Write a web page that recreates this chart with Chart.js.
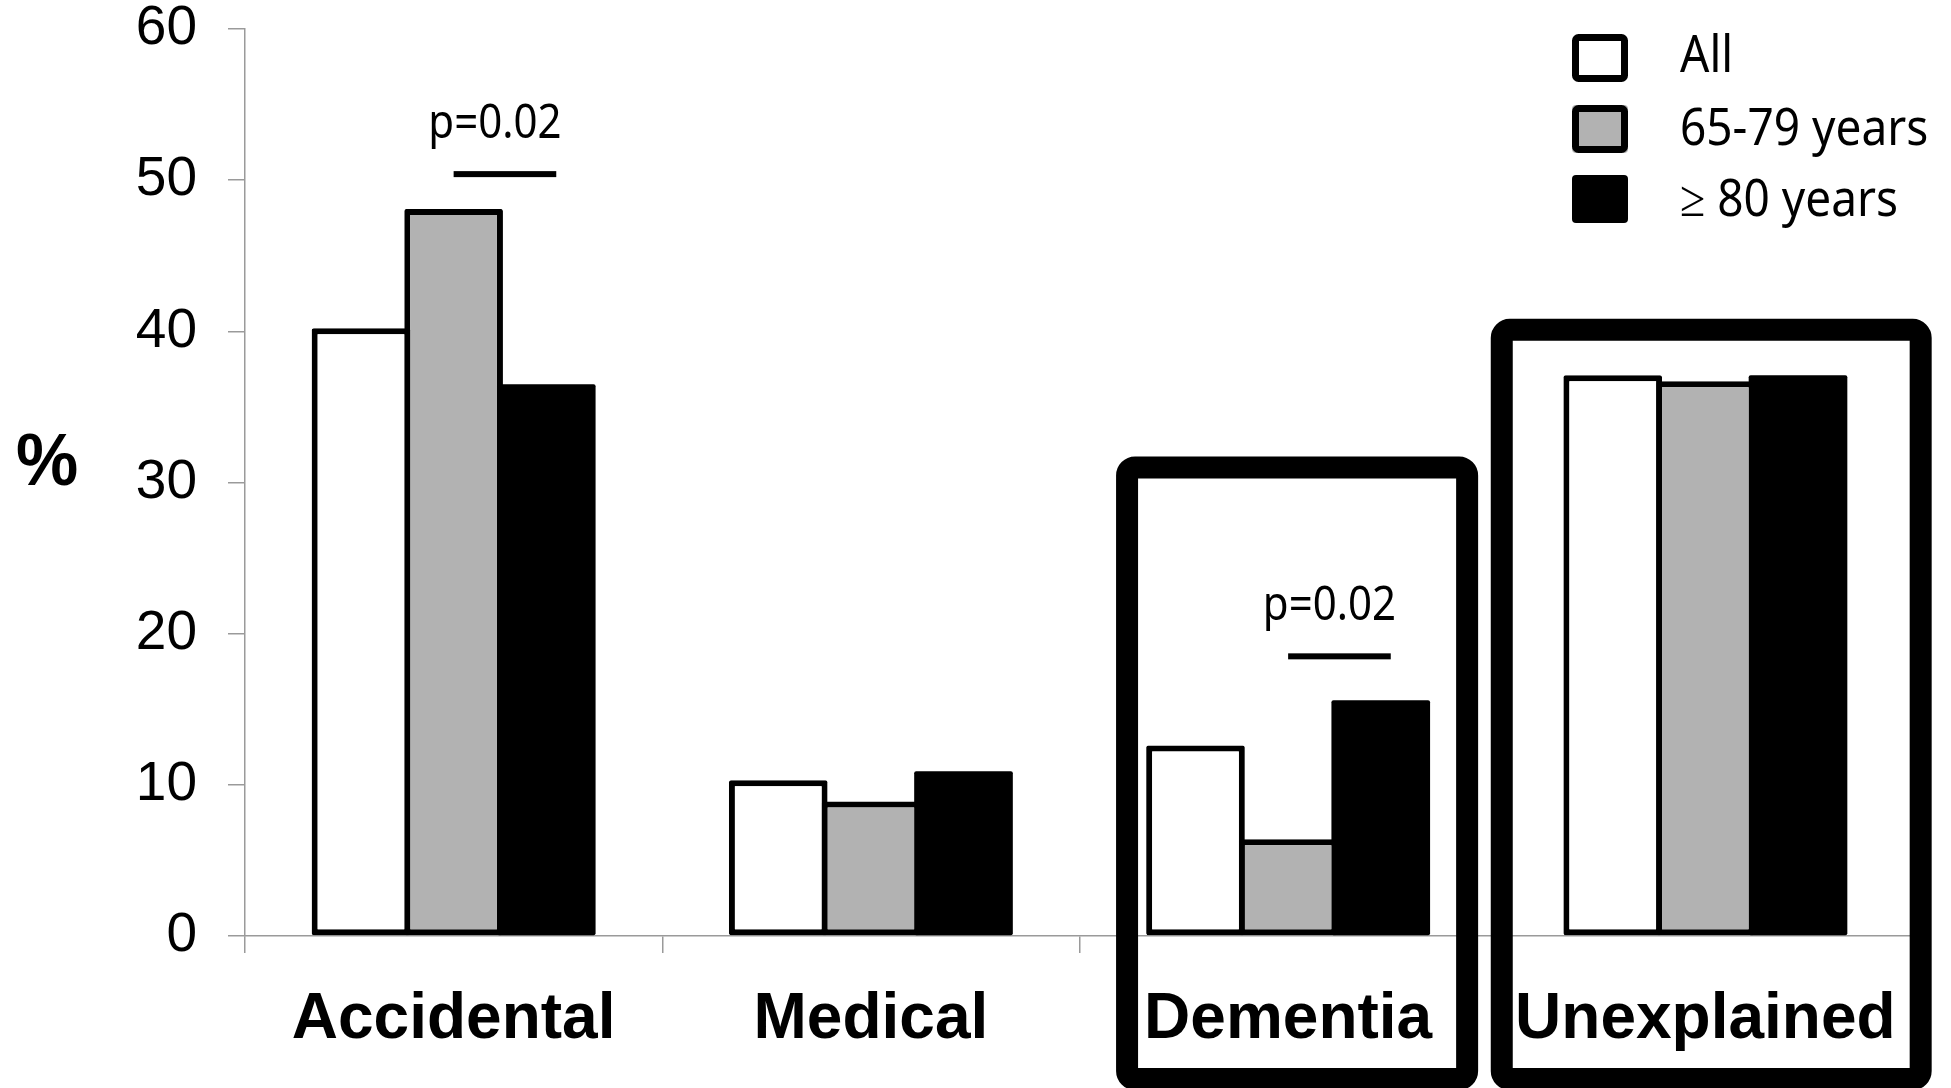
<!DOCTYPE html>
<html>
<head>
<meta charset="utf-8">
<script src="https://cdn.jsdelivr.net/npm/chart.js@4.4.1/dist/chart.umd.min.js"></script>
<style>
  html, body { margin: 0; padding: 0; background: #fff; }
  #wrap { width: 1951px; height: 1088px; }
</style>
</head>
<body>
<div id="wrap"><canvas id="chart"></canvas></div>
<script>
(function () {
  'use strict';

  // data (%)
  const categories = ['Accidental', 'Medical', 'Dementia', 'Unexplained'];
  const seriesLabels = ['All', '65-79 years', '\u2265 80 years'];
  const allValues = [40.2, 10.3, 12.6, 37.1];
  const age65to79Values = [48.1, 8.9, 6.4, 36.7];
  const age80plusValues = [36.5, 10.9, 15.6, 37.1];
  const yTickValues = [0, 10, 20, 30, 40, 50, 60];

  const AXIS_GRAY = '#9a9a9a';
  const FILLS = ['#ffffff', '#b2b2b2', '#000000'];

  // p-value marks: from the middle bar to the black bar of a category
  const sigMarks = [
    { cat: 0, level: 50.4, label: 'p=0.02' },
    { cat: 2, level: 18.5, label: 'p=0.02' },
  ];
  // thick frames round some categories (offsets in category widths)
  const frames = [
    { cat: 2, from: -0.386, to: 0.429, top: 31.0 },
    { cat: 3, from: -0.488, to: 0.516, top: 40.1 },
  ];

  // text a little taller than wide, like the original
  function tallText(ctx, txt, x, y, sy) {
    ctx.save();
    ctx.translate(x, y);
    ctx.scale(1, sy);
    ctx.fillText(txt, 0, 0);
    ctx.restore();
  }

  const overlay = {
    id: 'overlay',
    afterDatasetsDraw(chart) {
      const { ctx, scales: { x, y } } = chart;
      const w = x.getPixelForValue(1) - x.getPixelForValue(0);
      ctx.save();
      ctx.fillStyle = '#000';
      ctx.strokeStyle = '#000';

      sigMarks.forEach(s => {
        const g = chart.getDatasetMeta(1).data[s.cat];
        const b = chart.getDatasetMeta(2).data[s.cat];
        const x0 = g.x, x1 = b.x + 10;
        const yy = y.getPixelForValue(s.level);
        ctx.fillRect(x0, yy - 3, x1 - x0, 6);
        ctx.font = '42px "Noto Sans"';
        ctx.textAlign = 'center';
        ctx.textBaseline = 'middle';
        tallText(ctx, s.label, (x0 + x1) / 2 - 10, yy - 50, 1.12);
      });

      ctx.lineWidth = 22;
      frames.forEach(f => {
        const cx = x.getPixelForValue(f.cat);
        const l = cx + f.from * w, r = cx + f.to * w;
        const t = y.getPixelForValue(f.top), btm = chart.height - 9;
        ctx.beginPath();
        ctx.roundRect(l, t, r - l, btm - t, 8);
        ctx.stroke();
      });

      // "%" axis label
      ctx.font = 'bold 70px "Liberation Sans"';
      ctx.textAlign = 'center';
      ctx.textBaseline = 'middle';
      tallText(ctx, '%', 47, 465, 1.05);

      // legend
      const boxY = [58, 129, 199];
      const textY = [57, 130, 201];
      chart.data.datasets.forEach((ds, i) => {
        const bx = 1572, by = boxY[i] - 24;
        ctx.fillStyle = ds.backgroundColor;
        ctx.beginPath();
        ctx.roundRect(bx, by, 56, 48, 4);
        ctx.fill();
        if (i < 2) {
          ctx.lineWidth = 7;
          ctx.beginPath();
          ctx.roundRect(bx + 3.5, by + 3.5, 49, 41, 3);
          ctx.stroke();
        }
        ctx.fillStyle = '#000';
        ctx.font = '46px "Noto Sans"';
        ctx.textAlign = 'left';
        ctx.textBaseline = 'middle';
        tallText(ctx, ds.label, 1680, textY[i], 1.12);
      });
      ctx.restore();
    }
  };

  function barSet(label, data, i) {
    return {
      label: label,
      data: data,
      backgroundColor: FILLS[i],
      borderColor: '#000',
      borderWidth: i < 2 ? 6 : 0,
      borderSkipped: false,
      borderRadius: 2,
      categoryPercentage: 0.666,
      barPercentage: 1.065,
    };
  }

  new Chart(document.getElementById('chart'), {
    type: 'bar',
    data: {
      labels: categories,
      datasets: [
        barSet(seriesLabels[0], allValues, 0),
        barSet(seriesLabels[1], age65to79Values, 1),
        barSet(seriesLabels[2], age80plusValues, 2),
      ],
    },
    options: {
      responsive: true,
      maintainAspectRatio: false,
      animation: false,
      devicePixelRatio: 1,
      layout: { padding: { top: 29, right: 37, left: 0, bottom: 0 } },
      plugins: { legend: { display: false }, tooltip: { enabled: false } },
      scales: {
        x: {
          grid: { offset: true, drawOnChartArea: false, drawTicks: true, tickLength: 17, color: AXIS_GRAY, lineWidth: 1.5 },
          border: { color: AXIS_GRAY, width: 1.5 },
          ticks: { color: '#000', padding: 29, font: { family: '"Liberation Sans"', size: 64, weight: 'bold' } },
          afterFit(s) { s.height = 152; s.paddingLeft = 0; s.paddingRight = 0; },
        },
        y: {
          min: 0, max: 60,
          afterBuildTicks(s) { s.ticks = yTickValues.map(v => ({ value: v })); },
          grid: { drawOnChartArea: false, drawTicks: true, tickLength: 17, color: AXIS_GRAY, lineWidth: 1.5 },
          border: { color: AXIS_GRAY, width: 1.5 },
          ticks: { color: '#000', padding: 31, font: { family: '"Liberation Sans"', size: 55 } },
          afterFit(s) { s.width = 245; s.paddingTop = 0; s.paddingBottom = 0; },
        },
      },
    },
    plugins: [overlay],
  });
})();
</script>
</body>
</html>
